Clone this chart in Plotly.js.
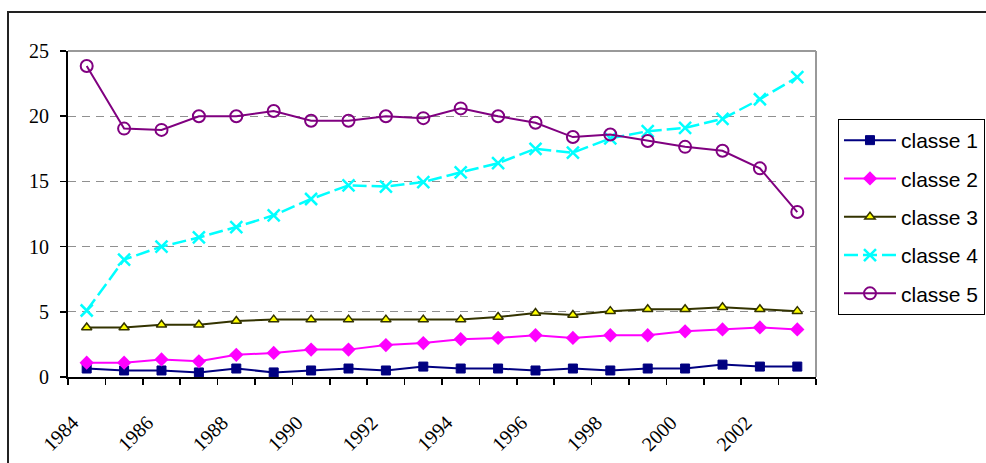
<!DOCTYPE html>
<html>
<head>
<meta charset="utf-8">
<script src="https://cdn.plot.ly/plotly-3.0.1.min.js"></script>
<style>html,body{margin:0;padding:0;background:#fff;}#chart{width:986px;height:463px;}</style>
</head>
<body>
<div id="chart"></div>
<script>
const years = [1984,1985,1986,1987,1988,1989,1990,1991,1992,1993,1994,1995,1996,1997,1998,1999,2000,2001,2002,2003];
const tickYears = [1984,1986,1988,1990,1992,1994,1996,1998,2000,2002];
const seriesNames = ["classe 1","classe 2","classe 3","classe 4","classe 5"];
const classe1 = [0.65,0.5,0.5,0.35,0.65,0.35,0.5,0.65,0.5,0.8,0.65,0.65,0.5,0.65,0.5,0.65,0.65,0.95,0.8,0.8];
const classe2 = [1.1,1.1,1.35,1.2,1.7,1.85,2.1,2.1,2.45,2.6,2.9,3.0,3.2,3.0,3.2,3.2,3.5,3.65,3.8,3.65];
const classe3 = [3.8,3.8,4.0,4.0,4.3,4.4,4.4,4.4,4.4,4.4,4.4,4.6,4.9,4.75,5.05,5.2,5.2,5.35,5.2,5.05];
const classe4 = [5.1,9.0,10.0,10.7,11.5,12.4,13.65,14.7,14.6,14.95,15.7,16.4,17.5,17.2,18.3,18.85,19.1,19.8,21.3,23.0];
const classe5 = [23.85,19.05,18.95,20.0,20.0,20.4,19.65,19.65,20.0,19.85,20.6,20.0,19.5,18.4,18.6,18.1,17.65,17.35,16.0,12.65];

const boundaries = years.map(y => y - 0.5).concat([years[years.length-1] + 0.5]);

const traces = [
  {y: classe1, line:{color:'#000080', width:2}, marker:{symbol:'square', size:9, color:'#000080', line:{color:'#000080', width:1}}},
  {y: classe2, line:{color:'#FF00FF', width:2}, marker:{symbol:'diamond', size:11, color:'#FF00FF'}},
  {y: classe3, line:{color:'#333300', width:2}, marker:{symbol:'triangle-up', size:9, color:'#FFFF00', line:{color:'#333300', width:1.5}}},
  {y: classe4, line:{color:'#00FFFF', width:2.5, dash:'14px,5px'}, marker:{symbol:'x-thin', size:12, color:'#00FFFF', line:{color:'#00FFFF', width:2.5}}},
  {y: classe5, line:{color:'#800080', width:2}, marker:{symbol:'circle-open', size:12, color:'#800080', line:{color:'#800080', width:2}}}
].map((t, i) => Object.assign({
  x: years, type:'scatter', mode:'lines+markers', name: seriesNames[i], legendgroup:'g'+i
}, t));

const serif = 'Liberation Serif, Times New Roman, serif';

const layout = {
  width: 986, height: 463,
  margin: {l:68, r:170, t:51, b:86, autoexpand:false},
  paper_bgcolor:'#ffffff', plot_bgcolor:'#ffffff',
  showlegend: true,
  legend: {
    x: 1.0294, xanchor:'left', y: 0.7914, yanchor:'top',
    bordercolor:'#000000', borderwidth:1, bgcolor:'#ffffff',
    font:{family:'Liberation Sans, Arial, sans-serif', size:21, color:'#000'},
    traceorder:'grouped', tracegroupgap: 8, itemwidth: 52
  },
  xaxis: {
    range:[1983.5, 2003.5], tickmode:'array', tickvals: tickYears, ticktext: tickYears.map(String),
    ticks:'', tickangle:-45, showgrid:false, zeroline:false,
    showline:true, linecolor:'#000000', linewidth:2,
    ticklabelstandoff: 24, ticklabelshift: -14,
    tickfont:{family:serif, size:20, color:'#000'},
    minor:{tickmode:'array', tickvals: boundaries, ticks:'outside', ticklen:6, tickcolor:'#000', tickwidth:1.5, showgrid:false}
  },
  yaxis: {
    range:[0,25], tick0:0, dtick:5, ticks:'outside', ticklen:6, tickcolor:'#000', tickwidth:1.5,
    showline:true, linecolor:'#000000', linewidth:2, zeroline:false,
    showgrid:true, gridcolor:'#909090', griddash:'8px,6px', gridwidth:1,
    ticklabelstandoff: 7,
    tickfont:{family:serif, size:20, color:'#000'}
  },
  shapes: [
    {type:'line', xref:'paper', yref:'paper', x0:0, x1:1, y0:1, y1:1, line:{color:'#999999', width:2}},
    {type:'line', xref:'paper', yref:'paper', x0:1, x1:1, y0:0, y1:1, line:{color:'#999999', width:2}},
    {type:'rect', xref:'paper', yref:'paper', x0:-0.0802, x1:1.25, y0:-0.35, y1:1.1196, line:{color:'#222222', width:2}, fillcolor:'rgba(0,0,0,0)', layer:'above'}
  ]
};

Plotly.newPlot('chart', traces, layout, {displayModeBar:false, staticPlot:true});
</script>
</body>
</html>
